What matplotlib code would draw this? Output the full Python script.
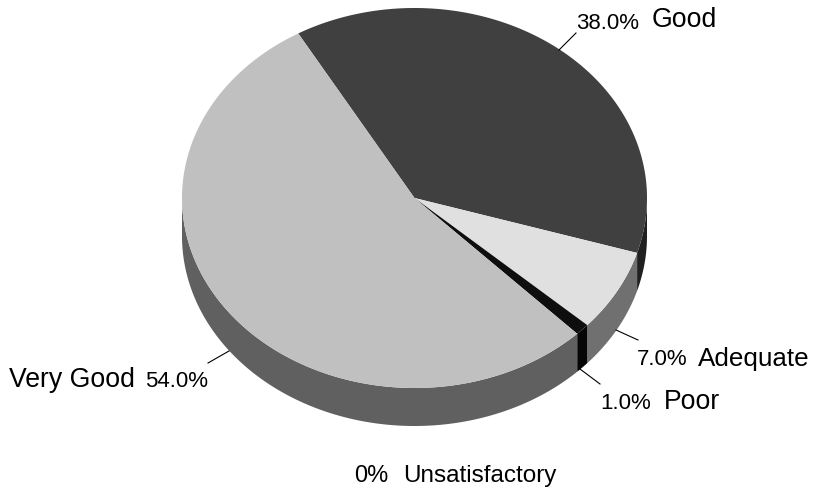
import numpy as np
import matplotlib
matplotlib.use("Agg")
import matplotlib.pyplot as plt

plt.rcParams["font.family"] = ["Liberation Sans", "DejaVu Sans"]

# ratings, clockwise from the top left of the pie
categories = ["Good", "Adequate", "Poor", "Very Good", "Unsatisfactory"]
values = [38.0, 7.0, 1.0, 54.0, 0.0]
value_labels = ["38.0%", "7.0%", "1.0%", "54.0%", "0%"]

top_colors = ["#404040", "#e0e0e0", "#0e0e0e", "#c0c0c0", "#ffffff"]
side_colors = ["#202020", "#707070", "#060606", "#606060", "#ffffff"]

# ellipse geometry, in pixels
cx, cy = 414.5, 198
rx, ry = 232.5, 190
depth = 38
start = -30.0


def rim(t):
    # t in degrees, clockwise from the top of the ellipse
    r = np.radians(t)
    return cx + rx * np.sin(r), cy - ry * np.cos(r)


fig = plt.figure(figsize=(8.13, 4.88), dpi=100)
ax = fig.add_axes([0, 0, 1, 1])
ax.set_xlim(0, 813)
ax.set_ylim(488, 0)
ax.axis("off")

edges = start + np.cumsum([0] + values) * 3.6

# side wall: only the front half of the rim is visible
for i in range(len(values)):
    a = max(edges[i], 90)
    b = min(edges[i + 1], 270)
    if b <= a:
        continue
    t = np.linspace(a, b, 200)
    x, y = rim(t)
    ax.fill(np.r_[x, x[::-1]], np.r_[y, y[::-1] + depth],
            color=side_colors[i], lw=0, zorder=1)

# top face
for i in range(len(values)):
    if values[i] == 0:
        continue
    t = np.linspace(edges[i], edges[i + 1], 200)
    x, y = rim(t)
    ax.fill(np.r_[cx, x], np.r_[cy, y], color=top_colors[i], lw=0, zorder=2)

# leader lines
ax.plot([559, 576], [50, 33], color="black", lw=0.8, zorder=3)
ax.plot([616, 638], [330, 340], color="black", lw=0.8, zorder=3)
ax.plot([580, 600], [369, 384], color="black", lw=0.8, zorder=3)
ax.plot([208, 229], [363, 351], color="black", lw=0.8, zorder=3)

# percentage and name labels
pct_pos = [(576, 29), (637, 365), (600, 409), (145, 387), (354, 482)]
name_pos = [(652, 27), (698, 366), (664, 409), (9, 387), (403, 482)]
pct_size = [16, 16, 16, 16, 17]
name_size = [19.2, 18.7, 19.2, 19.2, 17.5]

for i in range(len(categories)):
    ax.text(pct_pos[i][0], pct_pos[i][1], value_labels[i], fontsize=pct_size[i],
            ha="left", va="baseline", color="black")
    ax.text(name_pos[i][0], name_pos[i][1], categories[i], fontsize=name_size[i],
            ha="left", va="baseline", color="black")

fig.savefig("out.png", dpi=100)
